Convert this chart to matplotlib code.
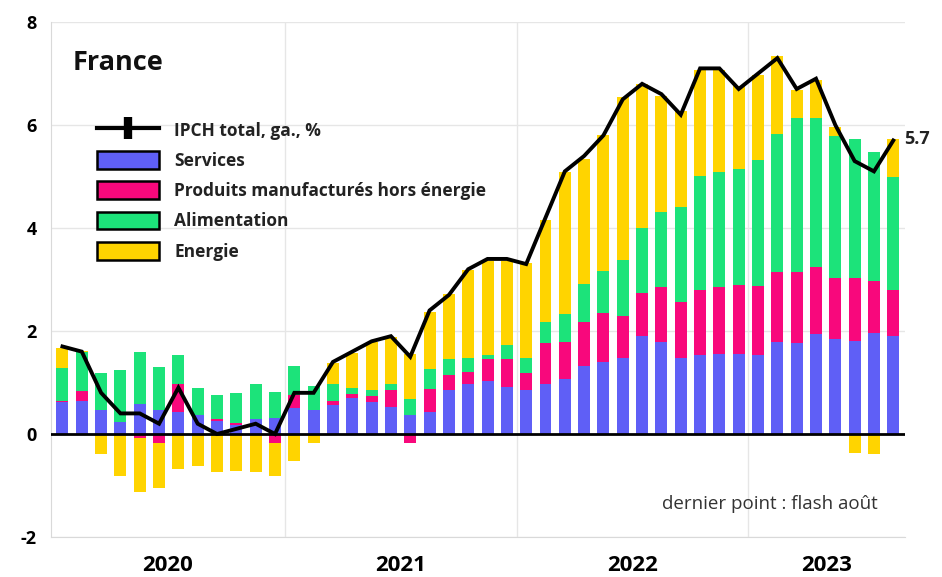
import matplotlib
matplotlib.use("Agg")
import matplotlib.pyplot as plt
import numpy as np
from matplotlib.patches import Patch
from matplotlib.lines import Line2D

plt.rcParams['font.family'] = ['Open Sans', 'DejaVu Sans']

years = ["2020", "2021", "2022", "2023"]
months = [f"{y}-{m:02d}" for y in (2020, 2021, 2022) for m in range(1, 13)] + [f"2023-{m:02d}" for m in range(1, 9)]

ipch_total = [1.7, 1.6, 0.8, 0.4, 0.4, 0.2, 0.9, 0.2, 0.0, 0.1, 0.2, 0.0,
              0.8, 0.8, 1.4, 1.6, 1.8, 1.9, 1.5, 2.4, 2.7, 3.2, 3.4, 3.4,
              3.3, 4.2, 5.1, 5.4, 5.8, 6.5, 6.8, 6.6, 6.2, 7.1, 7.1, 6.7,
              7.0, 7.3, 6.7, 6.9, 6.0, 5.3, 5.1, 5.7]
services = [0.63, 0.65, 0.47, 0.24, 0.58, 0.47, 0.42, 0.37, 0.26, 0.17, 0.29, 0.32,
            0.50, 0.46, 0.57, 0.70, 0.62, 0.53, 0.36, 0.42, 0.85, 0.98, 1.03, 0.92,
            0.85, 0.98, 1.06, 1.32, 1.39, 1.47, 1.91, 1.78, 1.47, 1.54, 1.56, 1.56,
            1.53, 1.79, 1.77, 1.94, 1.84, 1.81, 1.96, 1.90]
manufactures = [0.02, 0.19, 0.0, 0.0, -0.08, -0.17, 0.55, 0.0, 0.03, 0.04, 0.0, -0.17,
                0.25, 0.0, 0.07, 0.08, 0.11, 0.32, -0.17, 0.46, 0.29, 0.23, 0.42, 0.53,
                0.34, 0.78, 0.72, 0.85, 0.96, 0.82, 0.83, 1.08, 1.09, 1.25, 1.30, 1.34,
                1.35, 1.35, 1.37, 1.31, 1.19, 1.22, 1.01, 0.89]
alimentation = [0.63, 0.75, 0.71, 1.01, 1.01, 0.83, 0.57, 0.52, 0.47, 0.58, 0.68, 0.50,
                0.58, 0.48, 0.34, 0.12, 0.12, 0.13, 0.32, 0.39, 0.31, 0.27, 0.09, 0.27,
                0.29, 0.41, 0.56, 0.75, 0.81, 1.08, 1.26, 1.45, 1.85, 2.22, 2.22, 2.24,
                2.45, 2.69, 3.00, 2.89, 2.75, 2.69, 2.50, 2.21]
energie = [0.40, 0.03, -0.39, -0.82, -1.04, -0.87, -0.68, -0.63, -0.73, -0.71, -0.73, -0.64,
           -0.52, -0.17, 0.40, 0.68, 0.93, 0.91, 0.88, 1.10, 1.26, 1.71, 1.82, 1.64,
           1.84, 1.99, 2.74, 2.42, 2.65, 3.18, 2.80, 2.25, 1.86, 2.06, 1.99, 1.61,
           1.65, 1.51, 0.54, 0.73, 0.18, -0.36, -0.39, 0.72]

series = [
    ("Services", services, "#5F5FF6"),
    ("Produits manufacturés hors énergie", manufactures, "#F8087C"),
    ("Alimentation", alimentation, "#1CE37A"),
    ("Energie", energie, "#FFD400"),
]

fig = plt.figure(figsize=(9.42, 5.77), dpi=100)
ax = fig.add_axes([0.054, 0.0693, 0.9066, 0.8925])

x = np.arange(len(months))
pos_bottom = np.zeros(len(x))
neg_bottom = np.zeros(len(x))
for name, vals, col in series:
    v = np.array(vals, dtype=float)
    bottom = np.where(v >= 0, pos_bottom, neg_bottom)
    ax.bar(x, v, bottom=bottom, width=0.62, color=col, linewidth=0, zorder=2)
    pos_bottom += np.where(v >= 0, v, 0)
    neg_bottom += np.where(v < 0, v, 0)

ax.axhline(0, color="black", lw=2, zorder=3)
ax.plot(x, ipch_total, color="black", lw=2.8, zorder=4, solid_joinstyle="miter")

ax.annotate(f"{ipch_total[-1]:.1f}", xy=(x[-1], ipch_total[-1]), xytext=(8, 1),
            textcoords="offset points", fontsize=13, fontweight="bold", color="#222222",
            va="center", ha="left", annotation_clip=False)

ax.set_ylim(-2, 8)
ax.set_xlim(-0.6, 43.6)
ax.set_yticks([-2, 0, 2, 4, 6, 8])
ax.set_yticklabels(["-2", "0", "2", "4", "6", "8"], fontsize=13, fontweight="bold")
ax.tick_params(axis="y", length=0, pad=10)

bounds = [11.5, 23.5, 35.5]
ax.set_xticks(bounds)
ax.set_xticklabels([])
centers = [(-0.6 + 11.5) / 2, (11.5 + 23.5) / 2, (23.5 + 35.5) / 2, (35.5 + 43.6) / 2]
ax.set_xticks(centers, minor=True)
ax.set_xticklabels(years, minor=True, fontsize=16, fontweight="bold")
ax.tick_params(axis="x", which="both", length=0, pad=13)

ax.grid(True, axis="both", which="major", color="#E6E6E6", lw=1, zorder=0)
ax.set_axisbelow(True)
for s in ["top", "right"]:
    ax.spines[s].set_visible(False)
for s in ["left", "bottom"]:
    ax.spines[s].set_color("#D9D9D9")

ax.text(0.025, 0.921, "France", transform=ax.transAxes, fontsize=19.5,
        fontweight="bold", color="#111111", va="center", ha="left")
ax.text(0.968, 0.065, "dernier point : flash août", transform=ax.transAxes,
        fontsize=13.5, color="#333333", ha="right", va="center")

handles = [Line2D([0], [0], color="black", lw=3, marker="|", markersize=16,
                  markeredgewidth=6)]
labels = ["IPCH total, ga., %"]
for name, vals, col in series:
    handles.append(Patch(facecolor=col, edgecolor="black", linewidth=1.8))
    labels.append(name)
leg = ax.legend(handles, labels, loc="upper left", bbox_to_anchor=(0.054, 0.808),
                frameon=False, prop={"weight": "bold", "size": 12.5},
                handlelength=3.6, handleheight=1.2, labelspacing=0.66,
                handletextpad=0.86, borderpad=0, borderaxespad=0)
for t in leg.get_texts():
    t.set_color("#222222")

fig.savefig("out.png", dpi=100, facecolor="white")
